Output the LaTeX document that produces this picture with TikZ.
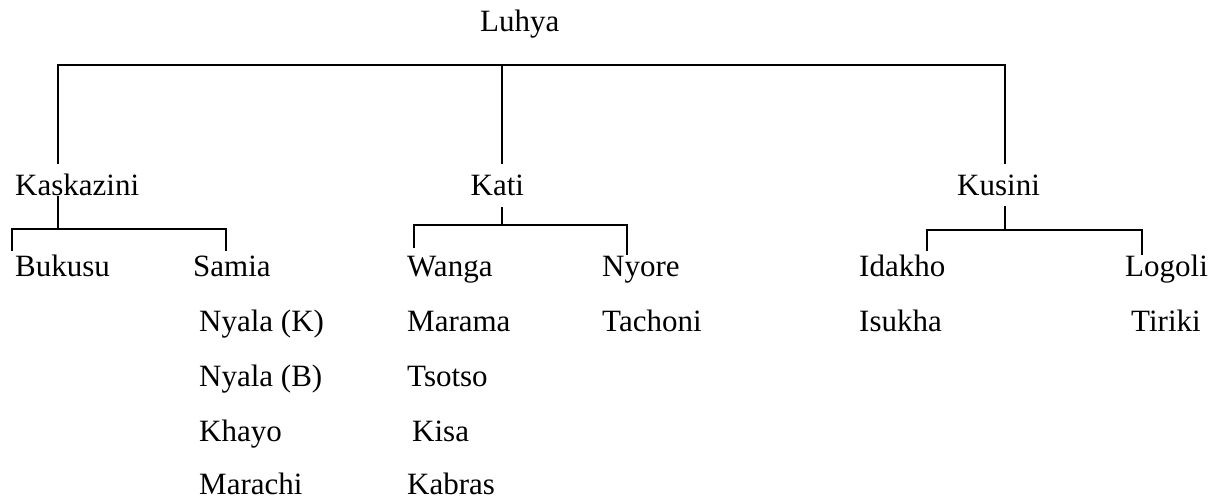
\documentclass[tikz,border=0pt]{standalone}
\usepackage{fontspec}
\setmainfont{Liberation Serif}
\begin{document}
\begin{tikzpicture}[x=1pt,y=-1pt,
  lbl/.style={anchor=base west,inner sep=0pt,font=\fontsize{31}{36}\selectfont},
  branch/.style={line width=1.6pt,line cap=rect}]
\useasboundingbox (0,0) rectangle (1214,500);
% labels
\node[lbl] (luhya) at (480,32) {Luhya};
\node[lbl] (kas) at (15,195) {Kaskazini};
\node[lbl] (kati) at (470.5,195) {Kati};
\node[lbl] (kus) at (957,195) {Kusini};
% row 1
\node[lbl] (bukusu) at (15,276) {Bukusu};
\node[lbl] (samia) at (193,276) {Samia};
\node[lbl] (wanga) at (407,276) {Wanga};
\node[lbl] (nyore) at (602,276) {Nyore};
\node[lbl] (idakho) at (859,276) {Idakho};
\node[lbl] (logoli) at (1125,276) {Logoli};
% row 2
\node[lbl] (nyalak) at (199,331) {Nyala (K)};
\node[lbl] (marama) at (407,331) {Marama};
\node[lbl] (tachoni) at (602,331) {Tachoni};
\node[lbl] (isukha) at (859,331) {Isukha};
\node[lbl] (tiriki) at (1131,331) {Tiriki};
% row 3
\node[lbl] (nyalab) at (199,386) {Nyala (B)};
\node[lbl] (tsotso) at (407,386) {Tsotso};
% row 4
\node[lbl] (khayo) at (199,441) {Khayo};
\node[lbl] (kisa) at (412,441) {Kisa};
% row 5
\node[lbl] (marachi) at (199,494.5) {Marachi};
\node[lbl] (kabras) at (407,494.5) {Kabras};
% top bracket
\coordinate (kasTop) at (58,163);
\coordinate (katiTop) at (502,163);
\coordinate (kusTop) at (1005,163);
\coordinate (topL) at (58,65);
\coordinate (topC) at (502,65);
\coordinate (topR) at (1005,65);
\draw[branch] (kasTop) -- (topL) -- (topR) -- (kusTop);
\draw[branch] (topC) -- (katiTop);
% Kaskazini bracket
\coordinate (kasJ) at (58,197);
\coordinate (kasM) at (58,229);
\coordinate (kasL) at (12,229);
\coordinate (kasR) at (226,229);
\coordinate (kasB1) at (12,250);
\coordinate (kasB2) at (226,250);
\draw[branch] (kasJ) -- (kasM);
\draw[branch] (kasB1) -- (kasL) -- (kasR) -- (kasB2);
% Kati bracket
\coordinate (katiJ) at (502,208);
\coordinate (katiM) at (502,225);
\coordinate (katiL) at (414,225);
\coordinate (katiR) at (627,225);
\coordinate (katiB1) at (414,247);
\coordinate (katiB2) at (627,254);
\draw[branch] (katiJ) -- (katiM);
\draw[branch] (katiB1) -- (katiL) -- (katiR) -- (katiB2);
% Kusini bracket
\coordinate (kusJ) at (1005,207);
\coordinate (kusM) at (1005,230);
\coordinate (kusL) at (927,230);
\coordinate (kusR) at (1142,230);
\coordinate (kusB1) at (927,250);
\coordinate (kusB2) at (1142,254);
\draw[branch] (kusJ) -- (kusM);
\draw[branch] (kusB1) -- (kusL) -- (kusR) -- (kusB2);
\end{tikzpicture}
\end{document}
